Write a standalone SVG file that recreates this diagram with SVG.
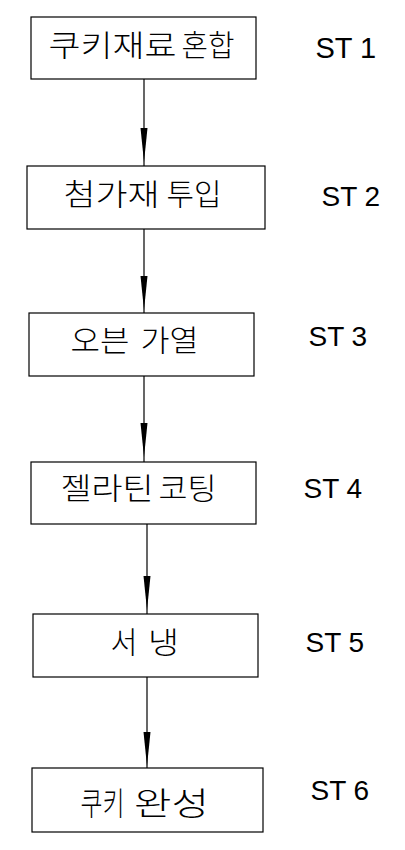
<svg xmlns="http://www.w3.org/2000/svg" xmlns:xlink="http://www.w3.org/1999/xlink" width="405" height="850" viewBox="0 0 405 850">
<style>
.box{fill:#fff;stroke:#000;stroke-width:1.2}
.kr{font-family:"Noto Sans CJK KR","Noto Sans",sans-serif;fill:#000;font-size:30px;font-weight:300}
.st{font-family:"Liberation Sans",Arial,sans-serif;fill:#000;font-size:28px}
.ln{stroke:#000;stroke-width:1.2;fill:none}
</style>
<defs>
<path id="head" d="M-3.5 0 L3.5 0 L0 34 Z" fill="#000"/>
</defs>
<rect width="405" height="850" fill="#fff"/>
<g id="connectors">
<line class="ln" x1="144" y1="79" x2="144" y2="166"/>
<use xlink:href="#head" x="144" y="128"/>
<line class="ln" x1="144" y1="229" x2="144" y2="313"/>
<use xlink:href="#head" x="144" y="276"/>
<line class="ln" x1="144" y1="376" x2="144" y2="462"/>
<use xlink:href="#head" x="144" y="423"/>
<line class="ln" x1="147" y1="524" x2="147" y2="614"/>
<use xlink:href="#head" x="147" y="576"/>
<line class="ln" x1="147" y1="677" x2="147" y2="768"/>
<use xlink:href="#head" x="147" y="732"/>
</g>
<g id="st1">
<rect class="box" x="31" y="17" width="225" height="62"/>
<text class="kr" x="48.5" y="56" textLength="128" lengthAdjust="spacingAndGlyphs">쿠키재료</text>
<text class="kr" x="181.5" y="56" textLength="53" lengthAdjust="spacingAndGlyphs">혼합</text>
<text class="st" x="315.5" y="58" style="font-size:29px">ST 1</text>
</g>
<g id="st2">
<rect class="box" x="27" y="166" width="238" height="63"/>
<text class="kr" x="63.5" y="205" textLength="96" lengthAdjust="spacingAndGlyphs">첨가재</text>
<text class="kr" x="166.5" y="205" textLength="55" lengthAdjust="spacingAndGlyphs">투입</text>
<text class="st" x="321.5" y="206">ST 2</text>
</g>
<g id="st3">
<rect class="box" x="29" y="313" width="225" height="63"/>
<text class="kr" x="70.5" y="351" textLength="59" lengthAdjust="spacingAndGlyphs">오븐</text>
<text class="kr" x="140.5" y="351" textLength="58" lengthAdjust="spacingAndGlyphs">가열</text>
<text class="st" x="308.5" y="346">ST 3</text>
</g>
<g id="st4">
<rect class="box" x="31" y="462" width="225" height="62"/>
<text class="kr" x="60.5" y="499" textLength="93" lengthAdjust="spacingAndGlyphs">젤라틴</text>
<text class="kr" x="158.5" y="499" textLength="58" lengthAdjust="spacingAndGlyphs">코팅</text>
<text class="st" x="303.5" y="498">ST 4</text>
</g>
<g id="st5">
<rect class="box" x="33" y="614" width="225" height="63"/>
<text class="kr" x="110.5" y="653" textLength="27" lengthAdjust="spacingAndGlyphs">서</text>
<text class="kr" x="148" y="653" textLength="31" lengthAdjust="spacingAndGlyphs">냉</text>
<text class="st" x="305.5" y="652">ST 5</text>
</g>
<g id="st6">
<rect class="box" x="32" y="768" width="231" height="64"/>
<text class="kr" x="80.5" y="815" style="font-size:32px" textLength="44" lengthAdjust="spacingAndGlyphs">쿠키</text>
<text class="kr" x="134" y="815" style="font-size:32px" textLength="75" lengthAdjust="spacingAndGlyphs">완성</text>
<text class="st" x="310.5" y="800">ST 6</text>
</g>
</svg>
